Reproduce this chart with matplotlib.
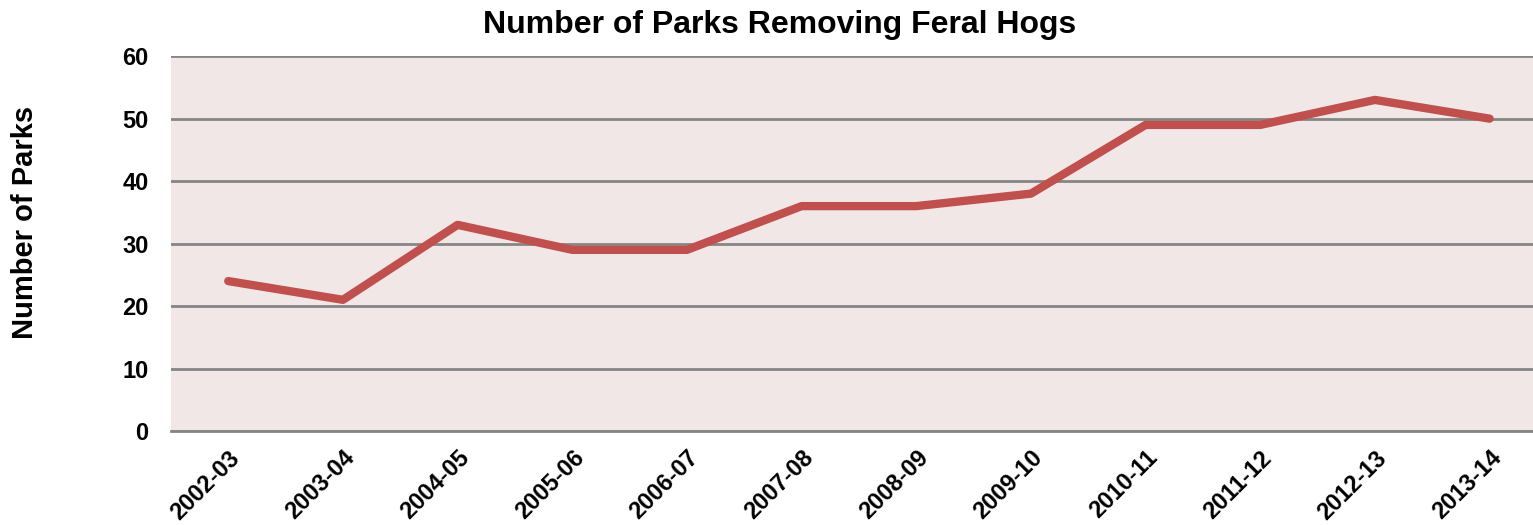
import matplotlib.pyplot as plt

years = ['2002-03', '2003-04', '2004-05', '2005-06', '2006-07', '2007-08',
         '2008-09', '2009-10', '2010-11', '2011-12', '2012-13', '2013-14']
parks = [24, 21, 33, 29, 29, 36, 36, 38, 49, 49, 53, 50]

plt.rcParams['font.family'] = ['Liberation Sans', 'DejaVu Sans']
plt.rcParams['font.weight'] = 'bold'

fig = plt.figure(figsize=(15.33, 5.25), dpi=100)
ax = fig.add_axes([0.1115, 0.179, 0.8976, 0.714])
ax.set_facecolor('#F2E7E7')

x = range(len(years))
ax.plot(x, parks, color='#C0504D', linewidth=6, solid_capstyle='round', solid_joinstyle='round', zorder=3)

ax.set_xlim(-0.5, len(years) - 0.5)
ax.set_ylim(0, 60)
ax.set_yticks(range(0, 61, 10))
ax.yaxis.grid(True, color='#868686', linewidth=2)
ax.set_axisbelow(True)
for s in ['top', 'right', 'left']:
    ax.spines[s].set_visible(False)
ax.spines['bottom'].set_color('#868686')
ax.spines['bottom'].set_linewidth(2)
ax.tick_params(axis='both', length=0, labelsize=17)
ax.tick_params(axis='y', pad=16)
ax.tick_params(axis='x', pad=11)
ax.set_xticks(list(x))
ax.set_xticklabels(years, rotation=45, ha='right', va='top', rotation_mode='anchor')

fig.text(25 / 1533, 1 - 222 / 525, 'Number of Parks', rotation=90, ha='center', va='center',
         fontsize=21, fontweight='bold')
fig.text(780 / 1533, 1 - 25 / 525, 'Number of Parks Removing Feral Hogs', ha='center', va='center',
         fontsize=23, fontweight='bold')

fig.savefig('out.png', dpi=100)
